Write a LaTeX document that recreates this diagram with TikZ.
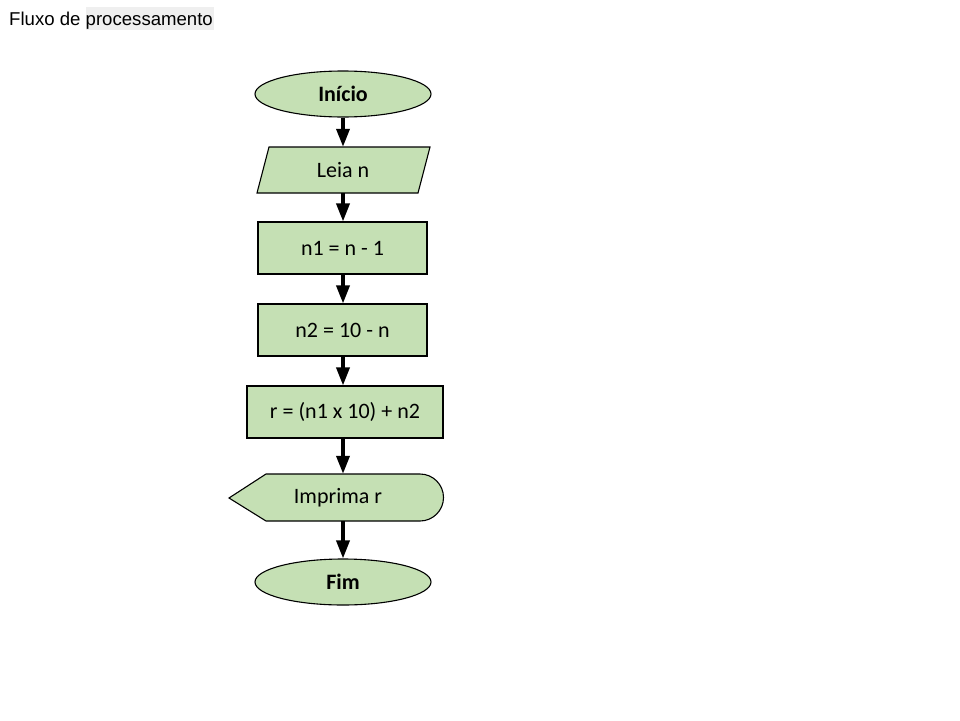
\documentclass[tikz,border=0pt]{standalone}
\usepackage{fontspec}
\setmainfont{Carlito}
\newfontfamily\titlefont{Liberation Sans}
\usetikzlibrary{shapes.geometric,arrows.meta}
\definecolor{boxgreen}{HTML}{C5E0B4}
\definecolor{marker}{HTML}{EFEFEF}
\tikzset{
  shapeline/.style={draw=black, line width=1.1pt, fill=boxgreen},
  bodyfont/.style={font=\fontsize{22}{25}\selectfont},
  terminal/.style={shapeline, ellipse, minimum width=176pt, minimum height=46pt, inner sep=0pt, font=\fontsize{22}{25}\selectfont\bfseries},
  procbox/.style={shapeline, rectangle, minimum height=52pt, inner sep=0pt, bodyfont},
  anchorbox/.style={rectangle, inner sep=0pt, bodyfont},
  flow/.style={line width=3.5pt, -{Triangle[width=13pt,length=18pt]}}
}
\begin{document}
\begin{tikzpicture}[x=1pt,y=-1pt]
\useasboundingbox (0,0) rectangle (960,720);

% title with highlighted word
\fill[marker] (86,7) rectangle (214,30);
\node[anchor=base west, inner sep=0pt, font=\titlefont\fontsize{18.6}{22}\selectfont] (title) at (9,25) {Fluxo de processamento};

% start
\node[terminal] (inicio) at (343,94) {Início};

% input (parallelogram)
\draw[shapeline] (269,147) -- (430,147) -- (418,193) -- (257,193) -- cycle;
\node[anchorbox, minimum width=146pt, minimum height=46pt] (leia) at (343,170) {Leia n};

% processing steps
\node[procbox, minimum width=169pt] (n1) at (342.5,248) {n1 = n - 1};
\node[procbox, minimum width=169pt] (n2) at (342.5,330) {n2 = 10 - n};
\node[procbox, minimum width=196pt] (r) at (345,412) {r = (n1 x 10) + n2};

% display (output)
\draw[shapeline] (229,498) -- (266,474) -- (420,474)
  arc[start angle=90, end angle=-90, x radius=23.5pt, y radius=23.5pt]
  -- (266,521) -- cycle;
\node[anchorbox, minimum width=214pt, minimum height=47pt] (imp) at (338,497.5) {Imprima r};

% end
\node[terminal] (fim) at (343,582) {Fim};

% connectors
\draw[flow] (inicio.south) -- (leia.north -| inicio.south);
\draw[flow] (leia.south -| inicio.south) -- (n1.north -| inicio.south);
\draw[flow] (n1.south -| inicio.south) -- (n2.north -| inicio.south);
\draw[flow] (n2.south -| inicio.south) -- (r.north -| inicio.south);
\draw[flow] (r.south -| inicio.south) -- (imp.north -| inicio.south);
\draw[flow] (imp.south -| fim.north) -- (fim.north);
\end{tikzpicture}
\end{document}
